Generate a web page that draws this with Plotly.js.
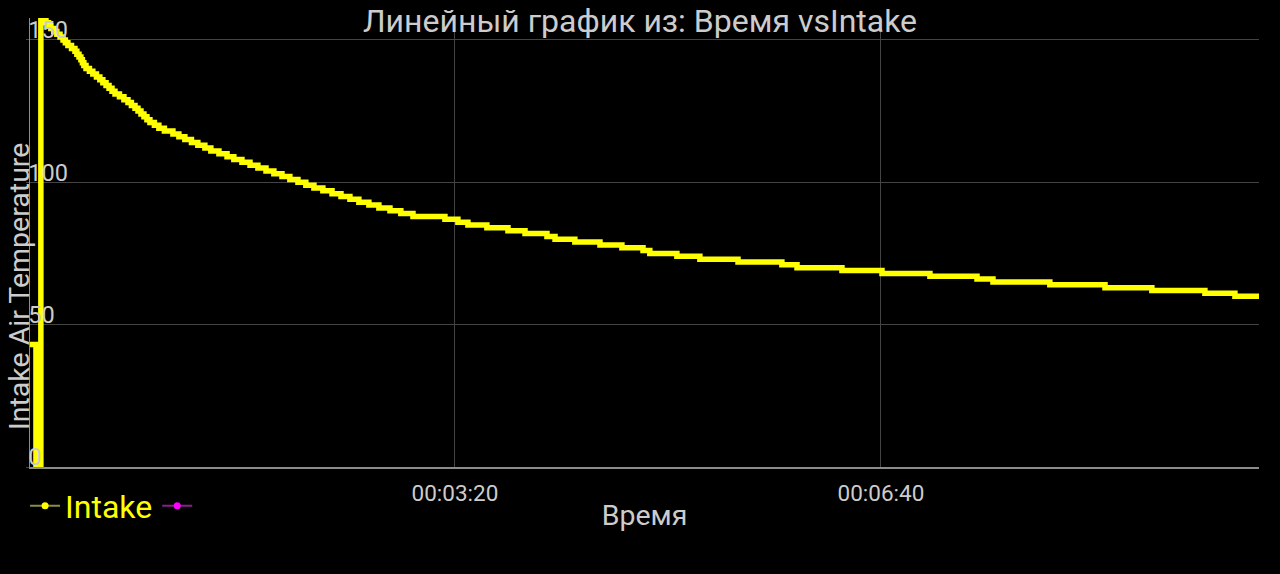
<!DOCTYPE html>
<html>
<head>
<meta charset="utf-8">
<script src="https://cdn.plot.ly/plotly-3.0.1.min.js"></script>
<style>
html,body{margin:0;padding:0;background:#000;}
#chart{width:1280px;height:574px;}
</style>
</head>
<body>
<div id="chart"></div>
<script>
// Time since start (seconds) at which the reading changes
const timeSeconds = [
  0.5, 3.3, 5.6, 8.0, 9.2, 10.3, 11.7, 13.1, 14.6, 16.0, 17.1, 18.3, 20.0, 21.6, 22.5, 23.5,
  24.4, 25.1, 25.8, 26.8, 28.4, 30.0, 31.7, 33.3, 34.7, 36.2, 37.6, 39.0, 40.4, 42.5, 44.6,
  46.5, 48.1, 49.8, 51.2, 52.6, 54.0, 55.4, 56.8, 58.9, 61.0, 63.6, 67.6, 70.4, 73.2, 76.3,
  79.3, 82.6, 85.4, 89.2, 93.0, 96.2, 100.0, 103.8, 107.5, 111.3, 115.0, 118.8, 122.5, 126.3,
  130.0, 133.8, 138.0, 142.3, 146.5, 150.7, 154.9, 159.6, 164.3, 169.5, 174.6, 180.3, 195.3,
  201.4, 206.1, 215.0, 224.9, 232.9, 243.2, 247.0, 256.3, 268.1, 278.4, 288.3, 291.5, 304.2,
  315.0, 332.9, 353.5, 360.6, 381.7, 400.5, 423.0, 445.1, 452.6, 479.3, 505.2, 527.2, 552.1,
  566.2, 577.5
];
// Intake Air Temperature readings
const intakeTemp = [
  43, 0, 157, 156, 155, 154, 153, 152, 151, 150, 149, 148, 147, 146, 145, 144,
  143, 142, 141, 140, 139, 138, 137, 136, 135, 134, 133, 132, 131, 130, 129,
  128, 127, 126, 125, 124, 123, 122, 121, 120, 119, 118, 117, 116, 115, 114,
  113, 112, 111, 110, 109, 108, 107, 106, 105, 104, 103, 102, 101, 100,
  99, 98, 97, 96, 95, 94, 93, 92, 91, 90, 89, 88, 87,
  86, 85, 84, 83, 82, 81, 80, 79, 78, 77, 76, 75, 74,
  73, 72, 71, 70, 69, 68, 67, 66, 65, 64, 63, 62, 61,
  60, 60
];
const seriesNames = ['Intake', ''];
const chartTitle = 'Линейный график из: Время vsIntake';
const xTitle = 'Время';
const yTitle = 'Intake Air Temperature';
const yTicks = [0, 50, 100, 150];

function toDateStr(sec) {
  return new Date(sec * 1000).toISOString().replace('T', ' ').replace('Z', '');
}
const xDates = timeSeconds.map(toDateStr);

const traces = [
  {
    x: xDates, y: intakeTemp, type: 'scatter', mode: 'lines',
    line: {color: '#ffff00', width: 5.5, shape: 'hv'},
    showlegend: false, hoverinfo: 'skip'
  },
  {
    x: [xDates[10]], y: [-1000], type: 'scatter', mode: 'lines+markers', name: seriesNames[0],
    line: {color: '#8c8c4a', width: 2}, marker: {color: '#ffff00', size: 7},
    showlegend: true, hoverinfo: 'skip'
  },
  {
    x: [xDates[10]], y: [-1000], type: 'scatter', mode: 'lines+markers', name: seriesNames[1],
    line: {color: '#8a1e8a', width: 2}, marker: {color: '#ff00ff', size: 7},
    showlegend: true, hoverinfo: 'skip'
  }
];

const layout = {
  width: 1280, height: 574,
  paper_bgcolor: '#000', plot_bgcolor: '#000',
  font: {family: 'Roboto, sans-serif', color: '#cccccc'},
  margin: {l: 30, r: 21, t: 18, b: 107, pad: 0},
  title: {
    text: chartTitle, font: {size: 32, color: '#cccccc'},
    xref: 'container', x: 0.5, xanchor: 'center',
    yref: 'container', y: 1 - 21/574, yanchor: 'middle'
  },
  xaxis: {
    type: 'date',
    range: [xDates[0], xDates[xDates.length - 1]],
    tickformat: '%H:%M:%S', tick0: toDateStr(0), dtick: 200000,
    showgrid: true, gridcolor: '#444444', gridwidth: 1,
    showline: true, linecolor: '#8c8c8c', linewidth: 1.5,
    zeroline: false, ticks: '',
    ticklabelstandoff: 5,
    tickfont: {size: 22.5, color: '#cccccc'},
    title: {text: xTitle, font: {size: 28.5, color: '#cccccc'}, standoff: 0},
    automargin: false
  },
  yaxis: {
    range: [0, 157.7],
    tickvals: yTicks, ticktext: yTicks.map(String),
    showgrid: true, gridcolor: '#444444', gridwidth: 1,
    showline: true, linecolor: '#8c8c8c', linewidth: 1.5,
    zeroline: false, ticks: 'outside', ticklen: 3, tickcolor: '#444444',
    ticklabelposition: 'inside', ticklabelshift: -10, ticklabelstandoff: 0,
    ticklabeloverflow: 'allow',
    tickfont: {size: 23.5, color: '#cccccc'},
    automargin: false
  },
  annotations: [{
    text: yTitle, textangle: -90, showarrow: false,
    xref: 'paper', yref: 'paper',
    x: (19 - 30) / 1229, y: (467 - 287) / 449,
    xanchor: 'center', yanchor: 'middle',
    font: {size: 28.5, color: '#cccccc'}
  }],
  legend: {
    orientation: 'h', x: -0.004, xanchor: 'left', y: -0.087, yanchor: 'middle',
    bgcolor: 'rgba(0,0,0,0)', font: {size: 32, color: '#ffff00'},
    itemclick: false, itemdoubleclick: false
  },
  showlegend: true
};

Plotly.newPlot('chart', traces, layout, {displayModeBar: false, staticPlot: true});
</script>
</body>
</html>
